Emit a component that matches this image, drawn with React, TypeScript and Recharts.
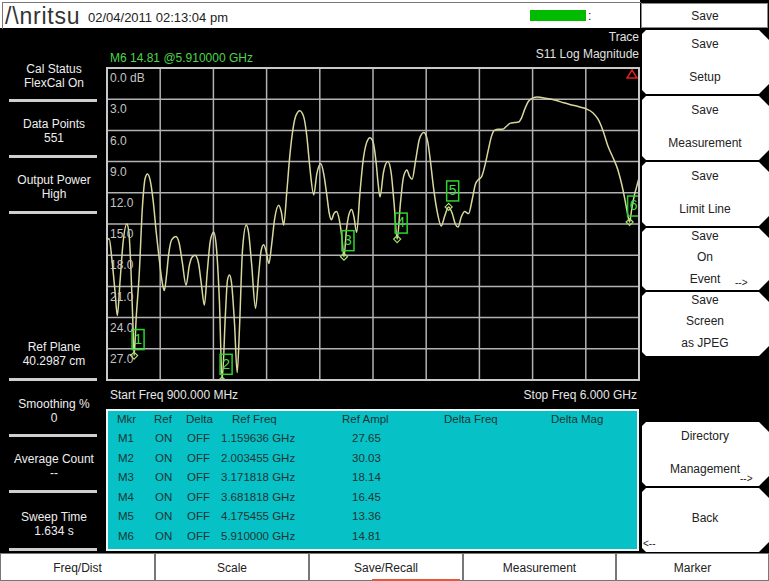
import React from "react";
import { ComposedChart, Line, Scatter, XAxis, YAxis, CartesianGrid } from "recharts";

// sweep settings
const startMHz = 900;
const stopMHz = 6000;
const freqTicks = [900, 1410, 1920, 2430, 2940, 3450, 3960, 4470, 4980, 5490, 6000];
const amplTicks = [0, 3, 6, 9, 12, 15, 18, 21, 24, 27, 30];
const amplLabels = ["0.0 dB", "3.0", "6.0", "9.0", "12.0", "15.0", "18.0", "21.0", "24.0", "27.0"];

// S11 trace: [MHz, dB]
const tracePoints: [number, number][] = [
  [900, 16.6], [920, 16.4], [948, 18.5], [977, 21.5], [999, 23.8], [1025, 20.5], [1054, 16.8],
  [1090, 15.0], [1110, 15.8], [1130, 19.5], [1148, 24.5], [1159.636, 27.65], [1180, 24.0],
  [1208, 20.0], [1240, 13.3], [1266, 10.6], [1288, 10.2], [1314, 10.8], [1343, 12.8], [1372, 15.8],
  [1400, 18.3], [1429, 20.6], [1449, 21.4], [1470, 20.0], [1490, 18.0], [1521, 16.5], [1561, 16.2],
  [1593, 16.9], [1622, 18.7], [1658, 20.9], [1689, 19.0], [1715, 18.2], [1744, 18.0], [1776, 18.7],
  [1805, 20.8], [1833, 22.8], [1862, 19.5], [1891, 16.6], [1923, 15.8], [1949, 17.3], [1978, 22.5],
  [2003.455, 30.03], [2036, 23.5], [2055, 20.4], [2074, 19.9], [2093, 20.6], [2122, 24.5],
  [2148, 29.3], [2170, 25.0], [2199, 17.5], [2235, 15.1], [2257, 15.8], [2286, 18.8], [2324, 23.1],
  [2353, 20.0], [2377, 17.6], [2401, 17.0], [2425, 17.6], [2452, 18.8], [2478, 17.0], [2507, 14.5],
  [2546, 13.2], [2570, 13.8], [2594, 15.1], [2623, 12.0], [2652, 8.5], [2681, 6.0], [2710, 4.6],
  [2748, 4.1], [2786, 4.7], [2815, 6.5], [2844, 9.5], [2882, 12.2], [2911, 10.2], [2950, 9.2],
  [2978, 10.2], [3007, 12.2], [3031, 14.0], [3052, 14.6], [3075, 14.0], [3100, 13.8], [3127, 14.6],
  [3151, 16.2], [3171.818, 18.14], [3196, 15.5], [3219, 14.1], [3245, 13.6], [3267, 14.3],
  [3293, 15.8], [3325, 12.0], [3354, 9.0], [3388, 7.2], [3421, 6.7], [3450, 7.1], [3479, 9.0],
  [3498, 11.0], [3517, 12.4], [3551, 10.0], [3592, 9.0], [3623, 10.0], [3652, 13.0],
  [3681.818, 16.45], [3713, 13.0], [3742, 10.5], [3775, 9.8], [3799, 10.4], [3825, 10.7],
  [3857, 9.0], [3896, 6.8], [3937, 6.2], [3973, 7.0], [4001, 9.0], [4030, 11.5], [4069, 14.0],
  [4104, 15.2], [4138, 14.2], [4175.455, 13.36], [4210, 14.0], [4239, 15.0], [4265, 15.3],
  [4297, 14.3], [4329, 13.8], [4366, 14.0], [4402, 12.6], [4431, 11.2], [4463, 10.7], [4489, 10.5],
  [4527, 9.2], [4557, 7.8], [4585, 6.6], [4614, 6.0], [4653, 5.9], [4691, 5.9], [4730, 5.6],
  [4768, 5.3], [4807, 5.25], [4845, 5.2], [4874, 4.8], [4903, 4.0], [4941, 3.2], [4980, 2.9],
  [5028, 2.8], [5076, 2.85], [5134, 2.95], [5201, 3.1], [5278, 3.35], [5355, 3.55], [5432, 3.75],
  [5499, 3.95], [5557, 4.3], [5606, 4.9], [5654, 6.0], [5702, 7.5], [5750, 8.6], [5798, 9.8],
  [5837, 11.3], [5866, 12.7], [5890, 14.0], [5910, 14.81], [5930, 13.6], [5950, 12.5],
  [5975, 11.5], [6000, 10.6],
];

// marker table
const markerNames = ["M1", "M2", "M3", "M4", "M5", "M6"];
const markerFreqGHz = [1.159636, 2.003455, 3.171818, 3.681818, 4.175455, 5.91];
const markerAmpl = [27.65, 30.03, 18.14, 16.45, 13.36, 14.81];
const tableHeader = ["Mkr", "Ref", "Delta", "Ref Freq", "Ref Ampl", "Delta Freq", "Delta Mag"];

// side panels
const leftLabels = [
  ["Cal Status", "FlexCal On"],
  ["Data Points", "551"],
  ["Output Power", "High"],
  ["Ref Plane", "40.2987 cm"],
  ["Smoothing %", "0"],
  ["Average Count", "--"],
  ["Sweep Time", "1.634 s"],
];
const leftTops = [69, 124, 180, 347, 404, 459, 517];
const leftSeps = [100, 156, 212, 379, 435, 491, 549];

const menuLabels = [
  ["Save", "Setup"],
  ["Save", "Measurement"],
  ["Save", "Limit Line"],
  ["Save", "On", "Event"],
  ["Save", "Screen", "as JPEG"],
  [],
  ["Directory", "Management"],
  ["Back"],
];
const menuBoxes = [
  [30, 94], [96, 160], [162, 226], [228, 290], [292, 356], [358, 420], [422, 486], [488, 552],
];
const bottomTabs = ["Freq/Dist", "Scale", "Save/Recall", "Measurement", "Marker"];

const traceData = tracePoints.map(([f, a]) => ({ f, a }));
const markerData = markerNames.map((n, i) => ({ f: markerFreqGHz[i] * 1000, a: markerAmpl[i], n: n.slice(1) }));

const FONT = "'Liberation Sans', Arial, sans-serif";

function T({ x, y, children, color = "#eee", size = 12, align = "center" }: any) {
  const tx = align === "center" ? "-50%" : align === "right" ? "-100%" : "0";
  return (
    <div
      style={{
        position: "absolute", left: x, top: y, transform: `translate(${tx},-50%)`,
        whiteSpace: "nowrap", color, fontSize: size, lineHeight: 1,
      }}
    >
      {children}
    </div>
  );
}

const AmplTick = (props: any) => {
  const { y, payload } = props;
  const idx = amplTicks.indexOf(Number(payload.value));
  if (idx < 0 || idx >= amplLabels.length) return null;
  return (
    <text x={3} y={y + 11} fill="#c4c4c4" fontSize={12} fontFamily={FONT} dominantBaseline="middle">
      {amplLabels[idx]}
    </text>
  );
};

const MarkerShape = (props: any) => {
  const { cx, cy, payload } = props;
  return (
    <g>
      <path
        d={`M${cx},${cy - 3.5} L${cx + 3.5},${cy} L${cx},${cy + 3.5} L${cx - 3.5},${cy} Z`}
        fill="none" stroke="#a6e36f" strokeWidth={1.2}
      />
      <rect x={cx - 2} y={cy - 26} width={12} height={20} fill="none" stroke="#2ed42e" strokeWidth={1.5} />
      <text x={cx + 4} y={cy - 15.5} textAnchor="middle" dominantBaseline="middle" fill="#3fdc3f" fontSize={14} fontFamily={FONT}>
        {payload.n}
      </text>
    </g>
  );
};

const btnClip =
  "polygon(0 4px, 4px 0, calc(100% - 10px) 0, 100% 10px, 100% calc(100% - 10px), calc(100% - 10px) 100%, 4px 100%, 0 calc(100% - 4px))";

export default function App() {
  return (
    <div
      style={{
        position: "absolute", left: 0, top: 0, width: 769, height: 581,
        background: "#000", fontFamily: FONT, overflow: "hidden",
      }}
    >
      {/* header */}
      <div style={{ position: "absolute", left: 0, top: 0, width: 640, height: 28, background: "#fff" }} />
      <div style={{ position: "absolute", left: 2, top: 2, width: 638, height: 26, borderTop: "1px solid #777", borderLeft: "1px solid #777" }} />
      <T x={5} y={16} color="#333" size={23} align="left">
        <span style={{ fontWeight: 300, letterSpacing: 0.8 }}>/\nritsu</span>
      </T>
      <T x={88} y={17} color="#222" size={13} align="left">02/04/2011 02:13:04 pm</T>
      <div style={{ position: "absolute", left: 530, top: 10, width: 56, height: 11, background: "#00bb00" }} />
      <T x={588} y={16} color="#222" size={12} align="left">:</T>

      {/* title box on the right */}
      <div style={{ position: "absolute", left: 641, top: 3, width: 127, height: 25, background: "#fff", border: "1px solid #888", boxSizing: "border-box" }} />
      <T x={705} y={16} color="#222" size={12}>Save</T>

      {/* left status panel */}
      {leftLabels.map((lines, i) => (
        <React.Fragment key={i}>
          <T x={54} y={leftTops[i]}>{lines[0]}</T>
          <T x={54} y={leftTops[i] + 13.5}>{lines[1]}</T>
          <div style={{ position: "absolute", left: 9, top: leftSeps[i] - 1, width: 88, height: 3, background: "#cfcfcf" }} />
        </React.Fragment>
      ))}

      {/* trace info */}
      <T x={110} y={58} color="#4cd44c" size={12} align="left">
        M6 {markerAmpl[5].toFixed(2)} @{markerFreqGHz[5].toFixed(6)} GHz
      </T>
      <T x={639} y={37} color="#e2e2e2" size={12} align="right">Trace</T>
      <T x={639} y={54} color="#e2e2e2" size={12} align="right">S11 Log Magnitude</T>

      {/* plot */}
      <div style={{ position: "absolute", left: 107, top: 68 }}>
        <ComposedChart width={532} height={312} margin={{ top: 0, right: 0, bottom: 0, left: 0 }}>
          <CartesianGrid stroke="#b2b2b2" strokeWidth={1.5} />
          <XAxis
            dataKey="f" type="number" domain={[startMHz, stopMHz]} ticks={freqTicks}
            allowDataOverflow hide
          />
          <YAxis
            dataKey="a" type="number" domain={[0, 30]} ticks={amplTicks} reversed allowDataOverflow
            mirror axisLine={false} tickLine={false} tick={AmplTick} width={40} interval={0}
          />
          <Line
            data={traceData} dataKey="a" type="monotone" stroke="#d8d89e" strokeWidth={1.5}
            dot={false} isAnimationActive={false}
          />
          <Scatter data={markerData} dataKey="a" shape={MarkerShape} isAnimationActive={false} />
        </ComposedChart>
      </div>
      <div style={{ position: "absolute", left: 106, top: 67, width: 534, height: 314, border: "2px solid #c8c8c8", boxSizing: "border-box", pointerEvents: "none" }} />
      <svg style={{ position: "absolute", left: 626, top: 69 }} width={12} height={10}>
        <path d="M6,1 L11,9 L1,9 Z" fill="none" stroke="#e02020" strokeWidth={1.5} />
      </svg>

      <T x={110} y={395} color="#e6e6e6" size={12} align="left">Start Freq 900.000 MHz</T>
      <T x={637} y={395} color="#e6e6e6" size={12} align="right">Stop Freq 6.000 GHz</T>

      {/* marker table */}
      <div style={{ position: "absolute", left: 106, top: 409, width: 533, height: 142, background: "#06c2c6", border: "2px solid #f4f4f4", boxSizing: "border-box" }} />
      {tableHeader.map((h, i) => (
        <T key={h} x={[117, 154, 186, 232, 342, 444, 551][i]} y={420} color="#1b3434" size={11.5} align="left">{h}</T>
      ))}
      {markerNames.map((m, i) => {
        const y = 439 + i * 19.5;
        return (
          <React.Fragment key={m}>
            <T x={118} y={y} color="#1b3434" size={11.5} align="left">{m}</T>
            <T x={155} y={y} color="#1b3434" size={11.5} align="left">ON</T>
            <T x={187} y={y} color="#1b3434" size={11.5} align="left">OFF</T>
            <T x={221} y={y} color="#1b3434" size={11.5} align="left">{markerFreqGHz[i].toFixed(6)} GHz</T>
            <T x={352} y={y} color="#1b3434" size={11.5} align="left">{markerAmpl[i].toFixed(2)}</T>
          </React.Fragment>
        );
      })}

      {/* right soft keys */}
      {menuBoxes.map(([top, bottom], i) => {
        const lines = menuLabels[i];
        if (!lines.length) return null;
        const h = bottom - top;
        const ys =
          lines.length === 3 ? [top + 8, top + 29, top + 51] :
          lines.length === 2 ? [top + 14, top + 47] : [top + 30];
        return (
          <React.Fragment key={i}>
            <div style={{ position: "absolute", left: 642, top, width: 127, height: h, background: "#fff", clipPath: btnClip }} />
            {lines.map((l, j) => (
              <T key={j} x={705} y={ys[j]} color="#222" size={12}>{l}</T>
            ))}
          </React.Fragment>
        );
      })}
      <T x={735} y={283} color="#222" size={10} align="left">--&gt;</T>
      <T x={740} y={479} color="#222" size={10} align="left">--&gt;</T>
      <T x={643} y={544} color="#222" size={10} align="left">&lt;--</T>

      {/* bottom tabs */}
      {bottomTabs.map((t, i) => {
        const edges = [0, 155, 309, 463, 616, 769];
        return (
          <React.Fragment key={t}>
            <div
              style={{
                position: "absolute", left: edges[i], top: 553, width: edges[i + 1] - edges[i], height: 28,
                background: "#fff", border: "1px solid #777", boxSizing: "border-box",
              }}
            />
            <T x={(edges[i] + edges[i + 1]) / 2} y={568} color="#222" size={12}>{t}</T>
          </React.Fragment>
        );
      })}
      <div style={{ position: "absolute", left: 372, top: 579, width: 88, height: 2, background: "#e05a3a" }} />
    </div>
  );
}
